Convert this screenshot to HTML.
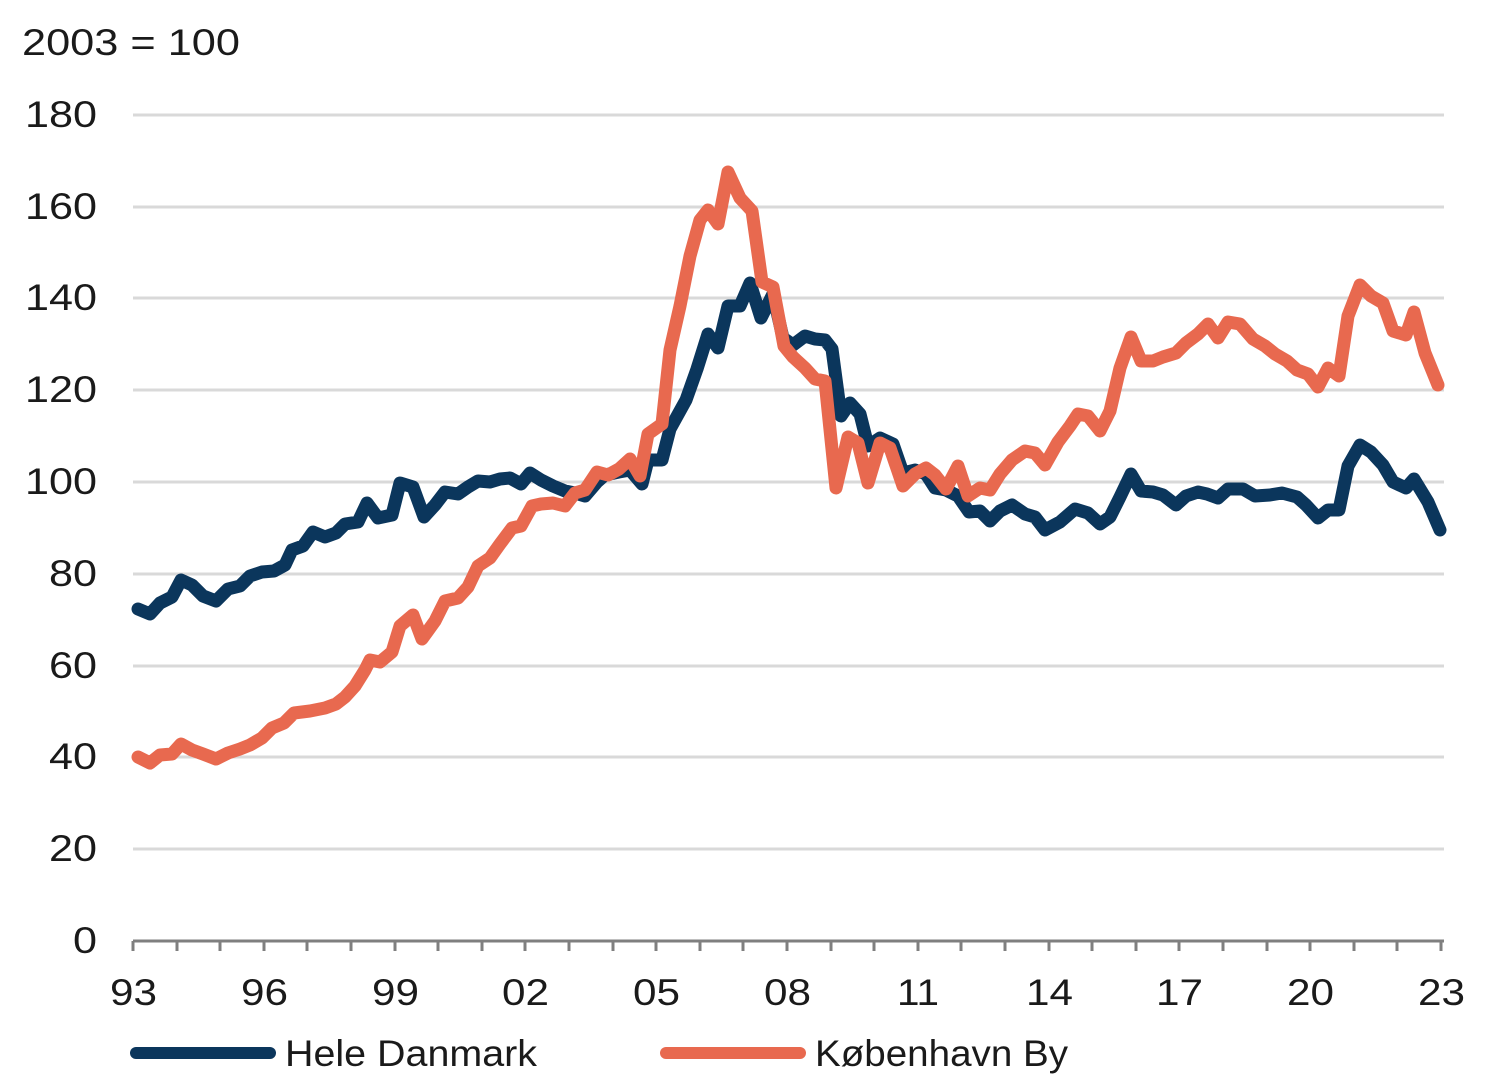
<!DOCTYPE html>
<html><head><meta charset="utf-8"><style>
body{margin:0;background:#fff}
svg text{font-family:"Liberation Sans",sans-serif;fill:#1a1a1a}
</style></head><body>
<svg width="1512" height="1081" viewBox="0 0 1512 1081" xmlns="http://www.w3.org/2000/svg">
<text x="22" y="55" font-size="37" textLength="218" lengthAdjust="spacingAndGlyphs">2003 = 100</text>
<g stroke="#d9d9d9" stroke-width="3">
<line x1="133" y1="115" x2="1444" y2="115"/>
<line x1="133" y1="207" x2="1444" y2="207"/>
<line x1="133" y1="298" x2="1444" y2="298"/>
<line x1="133" y1="390" x2="1444" y2="390"/>
<line x1="133" y1="482" x2="1444" y2="482"/>
<line x1="133" y1="574" x2="1444" y2="574"/>
<line x1="133" y1="666" x2="1444" y2="666"/>
<line x1="133" y1="757" x2="1444" y2="757"/>
<line x1="133" y1="849" x2="1444" y2="849"/>
</g>
<g font-size="37">
<text x="25" y="127" textLength="72" lengthAdjust="spacingAndGlyphs">180</text><text x="25" y="219" textLength="72" lengthAdjust="spacingAndGlyphs">160</text><text x="25" y="310" textLength="72" lengthAdjust="spacingAndGlyphs">140</text>
<text x="25" y="402" textLength="72" lengthAdjust="spacingAndGlyphs">120</text><text x="25" y="494" textLength="72" lengthAdjust="spacingAndGlyphs">100</text><text x="49" y="586" textLength="48" lengthAdjust="spacingAndGlyphs">80</text>
<text x="49" y="678" textLength="48" lengthAdjust="spacingAndGlyphs">60</text><text x="49" y="769" textLength="48" lengthAdjust="spacingAndGlyphs">40</text><text x="49" y="861" textLength="48" lengthAdjust="spacingAndGlyphs">20</text>
<text x="73" y="953" textLength="24" lengthAdjust="spacingAndGlyphs">0</text>
</g>
<line x1="133" y1="941" x2="1444" y2="941" stroke="#7f7f7f" stroke-width="3"/>
<g stroke="#7f7f7f" stroke-width="3">
<line x1="133" y1="941" x2="133" y2="951"/><line x1="177" y1="941" x2="177" y2="951"/><line x1="220" y1="941" x2="220" y2="951"/><line x1="264" y1="941" x2="264" y2="951"/><line x1="307" y1="941" x2="307" y2="951"/><line x1="351" y1="941" x2="351" y2="951"/><line x1="395" y1="941" x2="395" y2="951"/><line x1="438" y1="941" x2="438" y2="951"/><line x1="482" y1="941" x2="482" y2="951"/><line x1="525" y1="941" x2="525" y2="951"/><line x1="569" y1="941" x2="569" y2="951"/><line x1="613" y1="941" x2="613" y2="951"/><line x1="656" y1="941" x2="656" y2="951"/><line x1="700" y1="941" x2="700" y2="951"/><line x1="743" y1="941" x2="743" y2="951"/><line x1="787" y1="941" x2="787" y2="951"/><line x1="831" y1="941" x2="831" y2="951"/><line x1="874" y1="941" x2="874" y2="951"/><line x1="918" y1="941" x2="918" y2="951"/><line x1="961" y1="941" x2="961" y2="951"/><line x1="1005" y1="941" x2="1005" y2="951"/><line x1="1049" y1="941" x2="1049" y2="951"/><line x1="1092" y1="941" x2="1092" y2="951"/><line x1="1136" y1="941" x2="1136" y2="951"/><line x1="1179" y1="941" x2="1179" y2="951"/><line x1="1223" y1="941" x2="1223" y2="951"/><line x1="1267" y1="941" x2="1267" y2="951"/><line x1="1310" y1="941" x2="1310" y2="951"/><line x1="1354" y1="941" x2="1354" y2="951"/><line x1="1397" y1="941" x2="1397" y2="951"/><line x1="1441" y1="941" x2="1441" y2="951"/>
</g>
<g font-size="37">
<text x="110" y="1005" textLength="47" lengthAdjust="spacingAndGlyphs">93</text><text x="241" y="1005" textLength="47" lengthAdjust="spacingAndGlyphs">96</text><text x="372" y="1005" textLength="47" lengthAdjust="spacingAndGlyphs">99</text>
<text x="502" y="1005" textLength="47" lengthAdjust="spacingAndGlyphs">02</text><text x="633" y="1005" textLength="47" lengthAdjust="spacingAndGlyphs">05</text><text x="764" y="1005" textLength="47" lengthAdjust="spacingAndGlyphs">08</text>
<text x="897" y="1005" textLength="42" lengthAdjust="spacingAndGlyphs">11</text><text x="1026" y="1005" textLength="47" lengthAdjust="spacingAndGlyphs">14</text><text x="1156" y="1005" textLength="47" lengthAdjust="spacingAndGlyphs">17</text>
<text x="1287" y="1005" textLength="47" lengthAdjust="spacingAndGlyphs">20</text><text x="1418" y="1005" textLength="47" lengthAdjust="spacingAndGlyphs">23</text>
</g>
<polyline fill="none" stroke="#0b365c" stroke-width="13" stroke-linejoin="round" stroke-linecap="round" points="138,609 150,614 160,603 172,597 181,580 192,585 203,596 216,601 228,589 240,586 250,576 262,572 274,571 285,565 292,550 303,546 313,532 325,537 336,533 345,524 358,522 367,503 378,518 392,515 400,483 413,487 424,517 435,505 445,492 458,494 468,487 478,481 490,482 500,479 510,478 521,484 530,473 541,480 553,486 565,491 575,493 585,496 597,482 605,475 619,472 630,470 642,484 648,460 662,460 670,429 686,400 697,369 708,334 718,348 728,306 740,306 750,283 761,318 773,294 783,338 793,345 805,336 815,339 825,340 832,349 841,416 850,403 860,414 868,446 880,438 893,444 903,473 915,470 926,474 935,488 946,490 958,496 969,512 980,511 990,521 1000,511 1012,505 1025,514 1035,517 1045,530 1060,522 1075,509 1088,513 1100,524 1110,517 1120,497 1131,474 1141,491 1153,492 1163,495 1176,505 1186,496 1198,492 1207,494 1218,498 1228,489 1243,489 1255,496 1270,495 1282,493 1297,497 1306,505 1318,518 1328,510 1339,510 1348,466 1360,445 1371,452 1383,465 1393,482 1406,488 1414,479 1428,502 1440,530"/>
<polyline fill="none" stroke="#e8694f" stroke-width="13" stroke-linejoin="round" stroke-linecap="round" points="138,757 150,763 160,755 172,754 181,744 192,750 203,754 216,759 228,753 240,749 250,745 262,738 272,728 284,723 294,713 310,711 325,708 336,704 345,697 355,686 365,670 370,660 380,662 392,652 400,626 413,615 422,639 435,621 445,601 458,598 468,587 478,566 490,558 500,544 512,528 521,526 532,506 541,504 553,503 565,506 575,493 585,490 597,472 608,475 619,469 630,459 640,476 648,434 662,424 670,350 680,306 690,256 700,220 708,210 718,224 728,172 740,198 752,211 762,282 773,287 784,346 793,357 805,368 815,379 825,381 836,488 848,437 858,443 868,483 880,443 890,448 903,486 915,474 926,468 935,475 946,489 958,466 968,496 980,488 990,490 1000,474 1012,460 1025,451 1035,453 1045,465 1058,442 1070,426 1078,414 1088,416 1100,431 1110,411 1120,368 1131,337 1141,361 1153,361 1163,357 1176,353 1186,343 1198,334 1208,324 1218,338 1228,322 1240,324 1253,339 1265,346 1275,354 1287,361 1297,370 1308,374 1318,387 1328,368 1339,376 1348,316 1360,285 1371,296 1383,303 1393,331 1406,335 1414,312 1425,353 1438,385"/>
<line x1="136" y1="1053" x2="270" y2="1053" stroke="#0b365c" stroke-width="12" stroke-linecap="round"/>
<text x="285" y="1066" font-size="37" textLength="252" lengthAdjust="spacingAndGlyphs">Hele Danmark</text>
<line x1="666" y1="1053" x2="800" y2="1053" stroke="#e8694f" stroke-width="12" stroke-linecap="round"/>
<text x="815" y="1066" font-size="37" textLength="253" lengthAdjust="spacingAndGlyphs">København By</text>
</svg>
</body></html>
